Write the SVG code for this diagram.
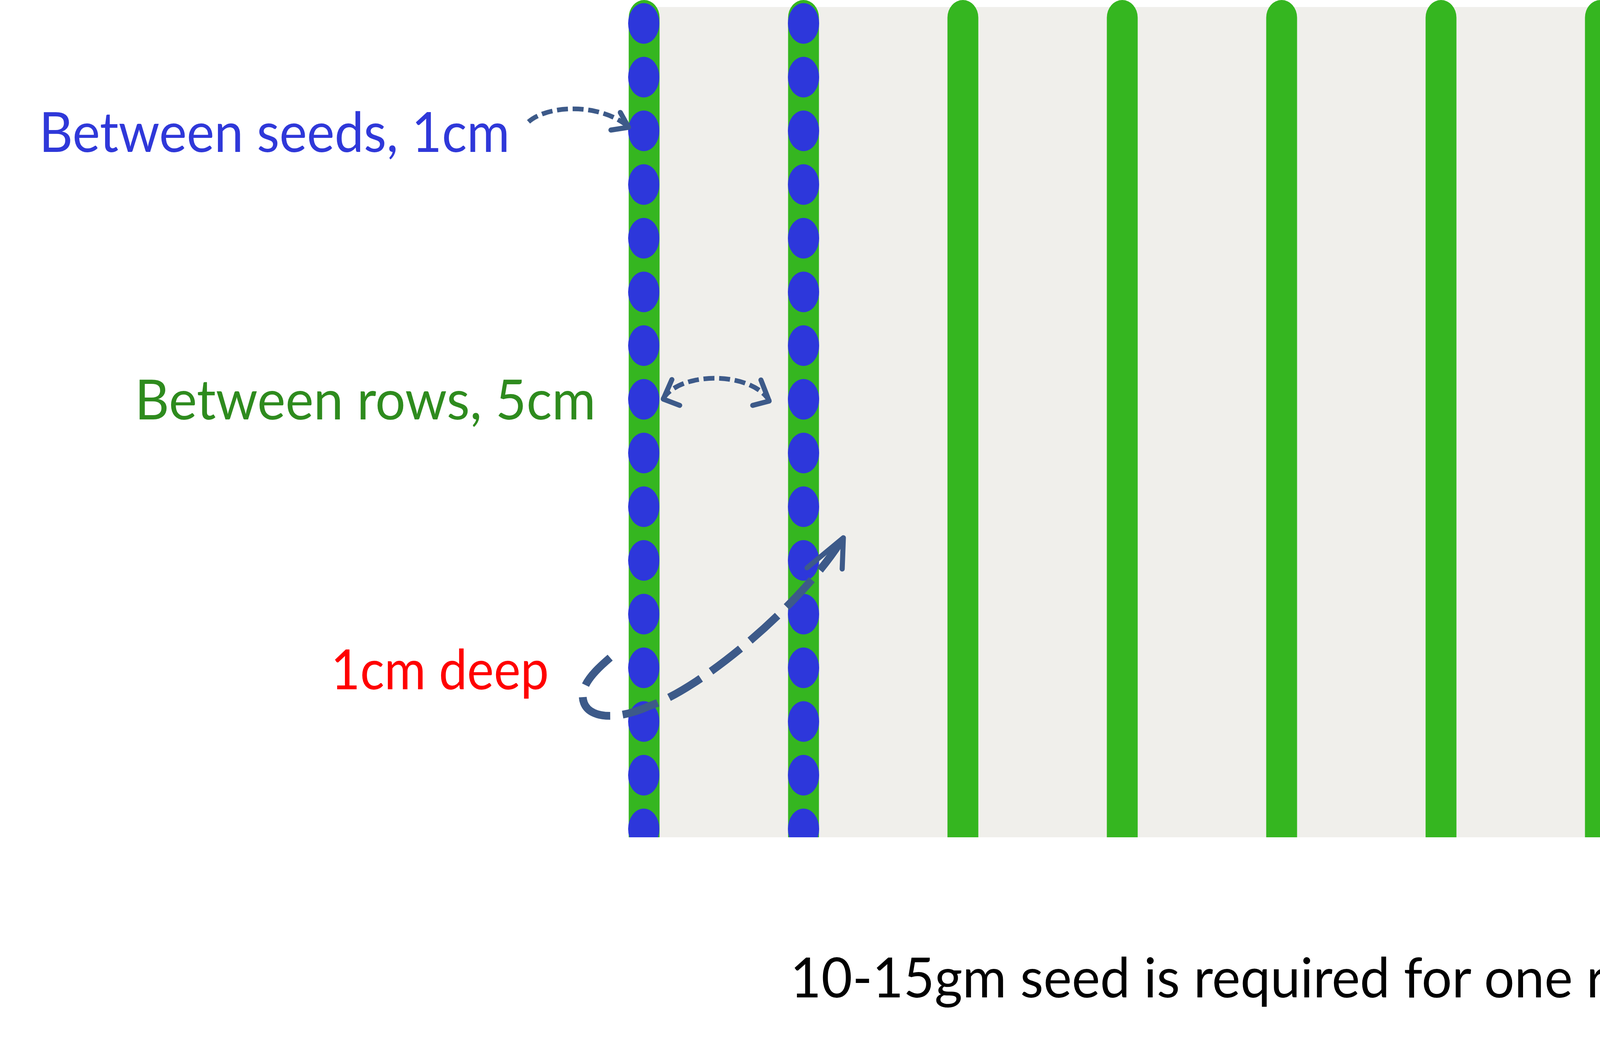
<svg xmlns="http://www.w3.org/2000/svg" width="4540" height="2681" viewBox="0 0 4540 2681">
<style>
.row{fill:#35b620}
.seed{fill:#2d37db}
.lbl{font-family:"Lato","Liberation Sans",sans-serif;font-size:141px}
.arc{fill:none;stroke:#3d5a89;stroke-width:12;stroke-dasharray:28 12}
.head{fill:none;stroke:#3d5a89;stroke-width:13;stroke-linecap:round;stroke-linejoin:round}
</style>
<defs>
<clipPath id="fieldClip"><rect x="0" y="0" width="4540" height="2144"/></clipPath>
<ellipse id="dot" class="seed" cx="0" cy="0" rx="40" ry="52"/>
</defs>
<rect x="0" y="0" width="4540" height="2681" fill="#ffffff"/>
<g id="field" clip-path="url(#fieldClip)">
<rect x="1649" y="18" width="2487" height="2126" fill="#f0efeb"/>
<g id="rows">
<path class="row" d="M1609.5,2144 V45 A39.5 45 0 0 1 1688.5,45 V2144 Z"/>
<path class="row" d="M2017.5,2144 V45 A39.5 45 0 0 1 2096.5,45 V2144 Z"/>
<path class="row" d="M2425.5,2144 V45 A39.5 45 0 0 1 2504.5,45 V2144 Z"/>
<path class="row" d="M2833.5,2144 V45 A39.5 45 0 0 1 2912.5,45 V2144 Z"/>
<path class="row" d="M3241.5,2144 V45 A39.5 45 0 0 1 3320.5,45 V2144 Z"/>
<path class="row" d="M3649.5,2144 V45 A39.5 45 0 0 1 3728.5,45 V2144 Z"/>
<path class="row" d="M4057.5,2144 V45 A39.5 45 0 0 1 4136.5,45 V2144 Z"/>
</g>
<g id="seeds-row1">
<use href="#dot" x="1648" y="60"/><use href="#dot" x="1648" y="197.5"/><use href="#dot" x="1648" y="335"/><use href="#dot" x="1648" y="472.5"/>
<use href="#dot" x="1648" y="610"/><use href="#dot" x="1648" y="747.5"/><use href="#dot" x="1648" y="885"/><use href="#dot" x="1648" y="1022.5"/>
<use href="#dot" x="1648" y="1160"/><use href="#dot" x="1648" y="1297.5"/><use href="#dot" x="1648" y="1435"/><use href="#dot" x="1648" y="1572.5"/>
<use href="#dot" x="1648" y="1710"/><use href="#dot" x="1648" y="1847.5"/><use href="#dot" x="1648" y="1985"/><use href="#dot" x="1648" y="2122.5"/>
</g>
<g id="seeds-row2">
<use href="#dot" x="2057" y="60"/><use href="#dot" x="2057" y="197.5"/><use href="#dot" x="2057" y="335"/><use href="#dot" x="2057" y="472.5"/>
<use href="#dot" x="2057" y="610"/><use href="#dot" x="2057" y="747.5"/><use href="#dot" x="2057" y="885"/><use href="#dot" x="2057" y="1022.5"/>
<use href="#dot" x="2057" y="1160"/><use href="#dot" x="2057" y="1297.5"/><use href="#dot" x="2057" y="1435"/><use href="#dot" x="2057" y="1572.5"/>
<use href="#dot" x="2057" y="1710"/><use href="#dot" x="2057" y="1847.5"/><use href="#dot" x="2057" y="1985"/><use href="#dot" x="2057" y="2122.5"/>
</g>
</g>
<g id="label-seeds"><text class="lbl" x="100" y="389" fill="#2f38d9" textLength="1205" lengthAdjust="spacingAndGlyphs">Between seeds, 1cm</text></g>
<g id="label-rows"><text class="lbl" x="345" y="1074" fill="#2e8b1e" textLength="1180" lengthAdjust="spacingAndGlyphs">Between rows, 5cm</text></g>
<g id="label-deep"><text class="lbl" x="847" y="1765" fill="#ff0000" textLength="558" lengthAdjust="spacingAndGlyphs">1cm deep</text></g>
<g id="label-note"><text class="lbl" x="2023" y="2554" fill="#000000" textLength="2418" lengthAdjust="spacingAndGlyphs">10-15gm seed is required for one ropani</text></g>
<g id="connectors">
<path class="arc" d="M1353,312 C1400,270 1530,262 1606,322"/>
<path class="head" d="M1588,288 L1609,326 L1564,333"/>
<path class="arc" d="M1697,1022 C1740,950 1925,950 1970,1027"/>
<path class="head" d="M1720,972 L1698,1022 L1740,1038"/>
<path class="head" d="M1948,973 L1969,1027 L1927,1038"/>
<path fill="none" stroke="#3d5a89" stroke-width="20" stroke-dasharray="95 32" d="M1562,1684 C1520,1720 1480,1760 1495,1800 C1510,1840 1580,1845 1662,1808 C1790,1765 2040,1560 2150,1390"/>
<path class="head" stroke-width="20" d="M2066,1454 L2159,1377 L2156,1457"/>
</g>
</svg>
